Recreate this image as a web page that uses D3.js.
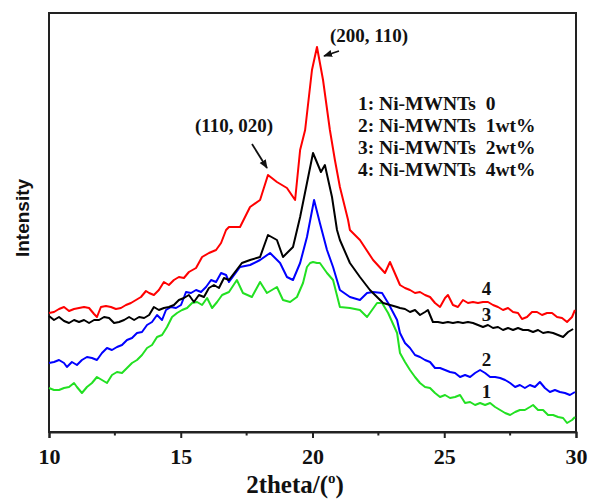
<!DOCTYPE html>
<html>
<head>
<meta charset="utf-8">
<script src="https://cdn.jsdelivr.net/npm/d3@7"></script>
<style>
  body { margin: 0; background: white; }
  text { font-family: "Liberation Serif", "Times New Roman", serif; font-weight: bold; fill: #111; }
</style>
</head>
<body>
<svg id="chart" width="590" height="500"></svg>
<script>
// XRD patterns, values (2theta in degrees, intensity in a.u.)
var xTicks = [10, 15, 20, 25, 30];
var xMinor = [12.5, 17.5, 22.5, 27.5];

var legendLabels = ["1: Ni-MWNTs  0", "2: Ni-MWNTs  1wt%", "3: Ni-MWNTs  2wt%", "4: Ni-MWNTs  4wt%"];

// 1: Ni-MWNTs 0
var s1 = [[10.00,44],[10.19,42],[10.38,42],[10.57,44],[10.76,45],[10.95,49],[11.06,45],[11.25,39],
  [11.44,45],[11.63,49],[11.82,55],[12.01,52],[12.20,49],[12.39,57],[12.58,60],[12.77,59],[12.96,64],
  [13.15,69],[13.34,72],[13.53,77],[13.72,84],[13.91,87],[14.10,95],[14.29,97],[14.48,105],[14.67,115],
  [14.86,119],[15.05,122],[15.24,124],[15.43,129],[15.62,130],[15.81,127],[16.00,134],[16.19,124],
  [16.38,130],[16.57,137],[16.83,140],[17.13,152],[17.36,139],[17.70,135],[18.01,150],[18.27,139],
  [18.65,145],[18.88,132],[19.15,130],[19.41,135],[19.64,149],[19.79,165],[19.91,169],[20.02,170],
  [20.17,169],[20.28,169],[20.55,159],[20.78,152],[21.04,125],[21.42,124],[21.80,122],[22.07,115],
  [22.45,129],[22.64,129],[22.87,119],[23.21,99],[23.32,79],[23.51,70],[23.70,62],[23.89,55],
  [24.08,49],[24.27,45],[24.46,44],[24.65,39],[24.84,35],[25.03,37],[25.22,34],[25.41,35],[25.60,37],
  [25.79,29],[25.98,30],[26.17,27],[26.36,29],[26.55,27],[26.74,29],[26.93,25],[27.12,22],[27.31,19],
  [27.50,17],[27.69,20],[27.87,22],[28.06,22],[28.25,25],[28.37,27],[28.56,22],[28.75,22],[28.94,17],
  [29.13,17],[29.32,15],[29.51,14],[29.66,9],[29.85,12],[29.96,15]];

// 2: Ni-MWNTs 1wt%
var s2 = [[10.00,69],[10.19,70],[10.38,72],[10.57,69],[10.68,65],[10.87,70],[11.06,67],[11.25,72],
  [11.44,75],[11.63,74],[11.82,72],[12.01,79],[12.20,84],[12.39,82],[12.58,85],[12.77,87],[12.96,92],
  [13.15,94],[13.34,99],[13.53,100],[13.72,107],[13.91,110],[14.10,117],[14.29,112],[14.44,122],
  [14.63,125],[14.82,124],[15.01,127],[15.20,140],[15.39,139],[15.58,142],[15.77,140],[15.96,145],
  [16.15,152],[16.34,150],[16.53,159],[16.72,157],[16.83,150],[17.25,165],[17.63,167],[18.01,172],
  [18.39,179],[18.77,169],[19.03,155],[19.26,152],[19.53,169],[19.79,195],[20.06,232],[20.28,209],
  [20.55,182],[20.78,165],[21.04,142],[21.42,135],[21.80,132],[22.07,139],[22.30,140],[22.64,139],
  [22.87,129],[23.21,112],[23.32,99],[23.51,89],[23.70,84],[23.89,77],[24.08,75],[24.27,72],[24.46,70],
  [24.65,64],[24.84,64],[25.03,62],[25.22,60],[25.41,59],[25.60,55],[25.79,57],[25.98,55],[26.17,59],
  [26.36,62],[26.55,59],[26.74,55],[26.93,55],[27.12,54],[27.31,52],[27.50,49],[27.69,45],[27.87,47],
  [28.06,44],[28.25,47],[28.44,45],[28.63,50],[28.82,44],[29.01,40],[29.20,42],[29.39,40],[29.58,39],
  [29.77,37],[29.96,40]];

// 3: Ni-MWNTs 2wt%
var s3 = [[10.00,116],[10.19,112],[10.38,115],[10.57,111],[10.76,109],[10.95,112],[11.14,110],
  [11.33,112],[11.52,109],[11.71,112],[11.90,112],[12.09,115],[12.28,114],[12.47,109],[12.66,110],
  [12.85,112],[13.04,115],[13.23,112],[13.42,115],[13.61,114],[13.80,117],[13.98,125],[14.17,122],
  [14.36,124],[14.55,125],[14.74,127],[14.93,132],[15.12,134],[15.31,137],[15.50,130],[15.69,137],
  [15.88,135],[16.07,144],[16.26,147],[16.45,144],[16.64,154],[16.83,152],[17.32,169],[17.63,172],
  [18.01,175],[18.31,197],[18.65,192],[18.88,175],[19.26,185],[19.53,215],[19.79,249],[20.02,279],
  [20.32,260],[20.47,267],[20.74,235],[20.93,202],[21.04,192],[21.42,169],[21.80,155],[22.18,142],
  [22.68,129],[23.21,125],[23.32,124],[23.51,123],[23.70,120],[23.89,122],[24.08,117],[24.27,120],
  [24.38,122],[24.57,110],[24.76,110],[24.95,109],[25.14,110],[25.33,109],[25.52,110],[25.71,109],
  [25.90,110],[26.09,109],[26.28,107],[26.47,105],[26.66,107],[26.85,104],[27.04,105],[27.23,102],
  [27.42,104],[27.61,102],[27.80,104],[27.99,102],[28.18,102],[28.37,100],[28.56,102],[28.75,99],
  [28.94,100],[29.13,99],[29.32,97],[29.51,95],[29.70,100],[29.89,103]];

// 4: Ni-MWNTs 4wt%
var s4 = [[10.00,119],[10.19,120],[10.38,123],[10.57,125],[10.76,121],[10.95,123],[11.14,124],
  [11.33,125],[11.52,124],[11.71,118],[11.82,115],[11.97,125],[12.16,126],[12.35,125],[12.54,123],
  [12.73,124],[12.92,127],[13.11,129],[13.30,132],[13.49,135],[13.68,141],[13.80,139],[13.98,137],
  [14.17,142],[14.36,150],[14.55,147],[14.74,152],[14.93,155],[15.12,154],[15.31,160],[15.58,164],
  [15.81,175],[16.07,179],[16.34,182],[16.53,189],[16.72,202],[16.83,205],[17.25,205],[17.63,225],
  [18.01,232],[18.31,257],[18.65,250],[19.03,244],[19.34,232],[19.53,282],[19.72,302],[19.98,362],
  [20.17,385],[20.40,352],[20.66,302],[20.85,272],[21.04,245],[21.35,212],[21.42,202],[21.80,192],
  [22.30,172],[22.75,159],[22.94,170],[23.32,147],[23.51,144],[23.70,142],[23.89,139],[24.08,140],
  [24.27,137],[24.46,135],[24.65,129],[24.84,125],[25.03,134],[25.14,137],[25.33,127],[25.52,125],
  [25.71,132],[25.90,129],[26.09,130],[26.28,129],[26.47,130],[26.66,130],[26.85,127],[27.04,125],
  [27.23,122],[27.42,124],[27.61,120],[27.80,119],[27.95,113],[28.14,115],[28.33,120],[28.52,120],
  [28.71,117],[28.90,119],[29.09,119],[29.28,115],[29.47,114],[29.66,110],[29.85,115],[29.96,122]];

var series = [
  {name: "1", data: s1, color: "#22e022"},
  {name: "2", data: s2, color: "#0000ff"},
  {name: "3", data: s3, color: "#000000"},
  {name: "4", data: s4, color: "#ff0000"}
];

var svg = d3.select("#chart");
var plotL = 49, plotR = 576, plotT = 13, plotB = 432;

var x = d3.scaleLinear().domain([10, 30]).range([plotL, plotR]);
var y = d3.scaleLinear().domain([0, 419]).range([plotB, plotT]);

// frame
svg.append("rect")
  .attr("x", plotL).attr("y", plotT)
  .attr("width", plotR - plotL).attr("height", plotB - plotT)
  .attr("fill", "none").attr("stroke", "#222").attr("stroke-width", 2);

// x axis: major + minor ticks pointing down
var xAxis = d3.axisBottom(x).tickValues(xTicks).tickSize(6).tickFormat(d3.format("d"));
var gx = svg.append("g").attr("transform", "translate(0," + plotB + ")").call(xAxis);
gx.select(".domain").attr("stroke", "#222").attr("stroke-width", 2);
gx.selectAll(".tick line").attr("stroke", "#222").attr("stroke-width", 2);
gx.selectAll(".tick text")
  .attr("dy", null).attr("y", 32)
  .style("font-family", "'Liberation Serif', serif").style("font-weight", "bold")
  .style("font-size", "22px").attr("fill", "#111");

svg.append("g").selectAll("line").data(xMinor).enter().append("line")
  .attr("x1", function(d) { return x(d); }).attr("x2", function(d) { return x(d); })
  .attr("y1", plotB).attr("y2", plotB + 3.5)
  .attr("stroke", "#222").attr("stroke-width", 2);

// curves
var line = d3.line()
  .x(function(d) { return x(d[0]); })
  .y(function(d) { return y(d[1]); });

svg.append("g").selectAll("path").data(series).enter().append("path")
  .attr("d", function(s) { return line(s.data); })
  .attr("fill", "none")
  .attr("stroke", function(s) { return s.color; })
  .attr("stroke-width", 2)
  .attr("stroke-linejoin", "round");

// curve numbers
var curveLabels = [{t: "4", x: 26.6, v: 137}, {t: "3", x: 26.6, v: 111},
                   {t: "2", x: 26.6, v: 66}, {t: "1", x: 26.6, v: 34}];
svg.append("g").selectAll("text").data(curveLabels).enter().append("text")
  .attr("x", function(d) { return x(d.x); })
  .attr("y", function(d) { return y(d.v); })
  .attr("text-anchor", "middle")
  .style("font-size", "19px")
  .text(function(d) { return d.t; });

// legend
svg.append("g").selectAll("text").data(legendLabels).enter().append("text")
  .attr("x", 358)
  .attr("y", function(d, i) { return 110 + i * 22; })
  .style("font-size", "19.5px")
  .style("white-space", "pre")
  .text(function(d) { return d; });

// peak annotations
svg.append("defs").append("marker")
  .attr("id", "arrow").attr("viewBox", "0 0 10 10")
  .attr("refX", 9).attr("refY", 5)
  .attr("markerWidth", 5).attr("markerHeight", 5)
  .attr("orient", "auto")
  .append("path").attr("d", "M0,1 L10,5 L0,9 z").attr("fill", "#111");

svg.append("text").attr("x", 369).attr("y", 42).attr("text-anchor", "middle")
  .style("font-size", "19px").text("(200, 110)");
svg.append("line").attr("x1", 339).attr("y1", 51).attr("x2", 324).attr("y2", 56)
  .attr("stroke", "#111").attr("stroke-width", 1.8).attr("marker-end", "url(#arrow)");

svg.append("text").attr("x", 234).attr("y", 132).attr("text-anchor", "middle")
  .style("font-size", "19px").text("(110, 020)");
svg.append("line").attr("x1", 252).attr("y1", 144).attr("x2", 267).attr("y2", 168)
  .attr("stroke", "#111").attr("stroke-width", 1.8).attr("marker-end", "url(#arrow)");

// axis titles
svg.append("text")
  .attr("transform", "translate(29,218) rotate(-90)")
  .attr("text-anchor", "middle")
  .style("font-family", "'Liberation Sans', Arial, sans-serif")
  .style("font-size", "19px")
  .text("Intensity");

var xt = svg.append("text").attr("x", 295).attr("y", 493).attr("text-anchor", "middle")
  .style("font-size", "25px");
xt.append("tspan").text("2theta/(");
xt.append("tspan").attr("dy", -10).style("font-size", "15px").text("o");
xt.append("tspan").attr("dy", 10).text(")");
</script>
</body>
</html>
